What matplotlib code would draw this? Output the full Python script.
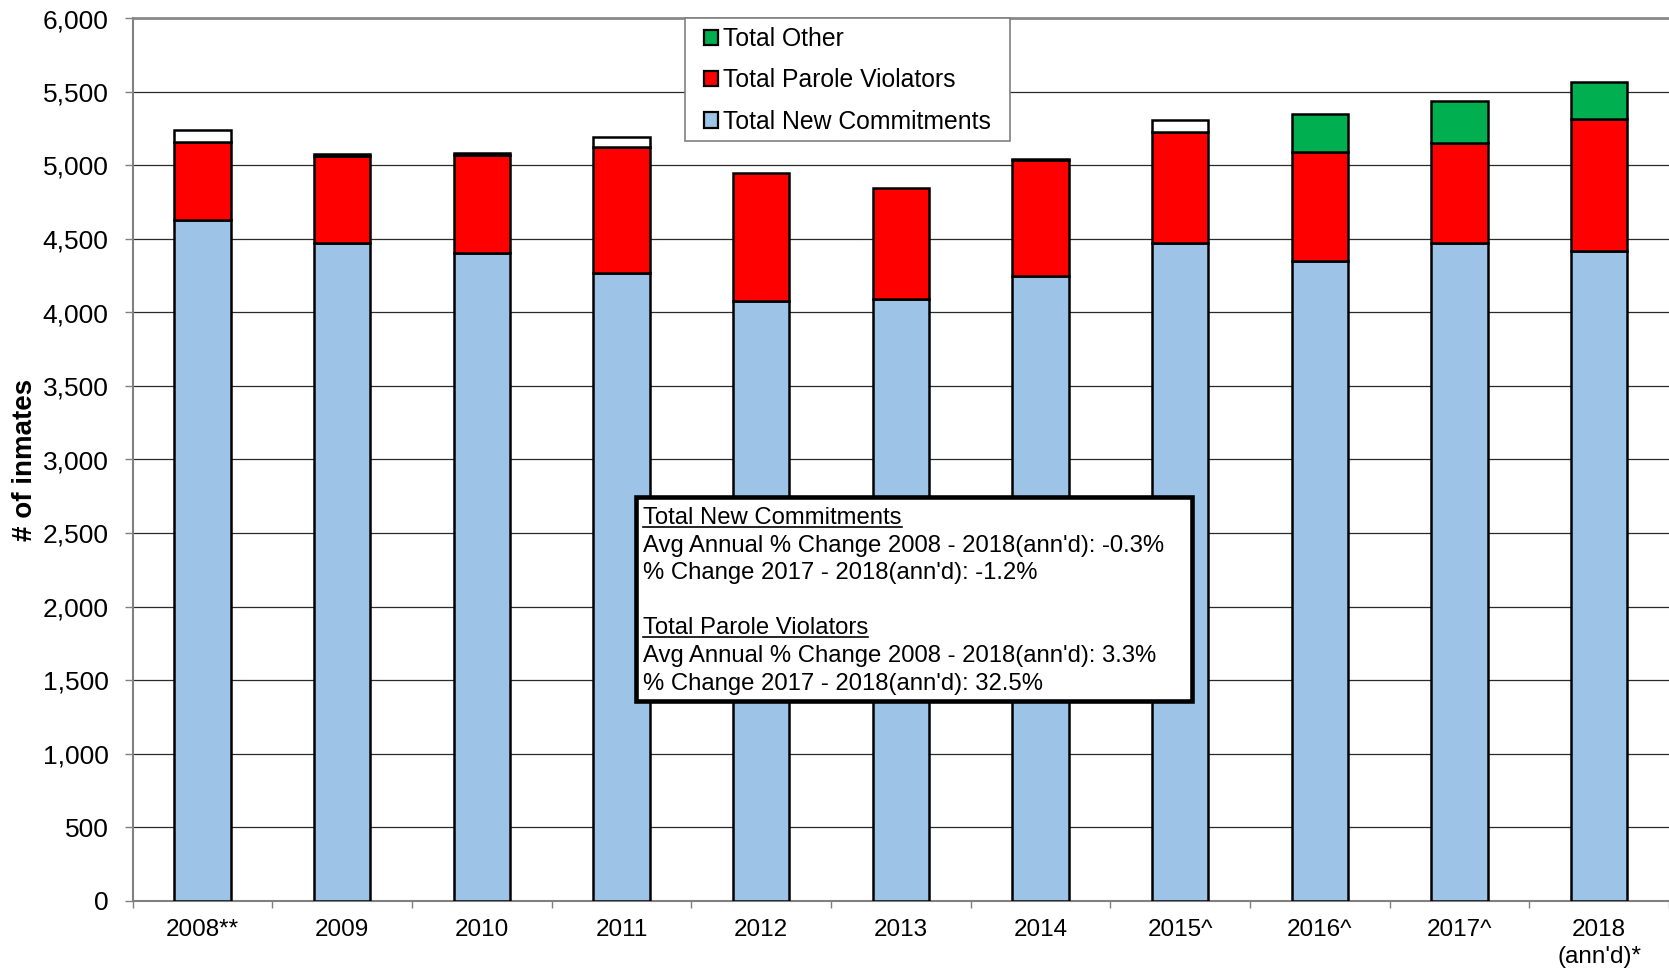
import matplotlib
matplotlib.use("Agg")
import matplotlib.pyplot as plt
from matplotlib.patches import Rectangle, Patch
from matplotlib.lines import Line2D
from matplotlib.ticker import FuncFormatter, MultipleLocator
import numpy as np

# ---------------- data ----------------
years = ["2008**", "2009", "2010", "2011", "2012", "2013", "2014",
         "2015^", "2016^", "2017^", "2018\n(ann'd)*"]
new_commitments = [4626, 4476, 4406, 4268, 4080, 4091, 4248, 4476, 4350, 4472, 4415]
parole_violators = [533, 586, 664, 859, 868, 753, 790, 751, 745, 680, 901]
total_other = [0, 0, 0, 0, 0, 0, 0, 0, 257, 286, 249]
unclassified = [82, 15, 12, 66, 0, 0, 3, 82, 0, 0, 0]

series_names = ["Total New Commitments", "Total Parole Violators", "Total Other"]
colors = {"nc": "#9DC3E6", "pv": "#FF0000", "ot": "#00B050", "un": "#FFFFFF"}

note_lines = [
    ("Total New Commitments", True),
    ("Avg Annual % Change 2008 - 2018(ann'd): -0.3%", False),
    ("% Change 2017 - 2018(ann'd): -1.2%", False),
    ("", False),
    ("Total Parole Violators", True),
    ("Avg Annual % Change 2008 - 2018(ann'd): 3.3%", False),
    ("% Change 2017 - 2018(ann'd): 32.5%", False),
]

# ---------------- figure ----------------
plt.rcParams['font.family'] = ['Liberation Sans', 'DejaVu Sans']
W, H = 1669, 972
fig = plt.figure(figsize=(W / 100, H / 100), dpi=100)

def fx(x):
    return x / W

def fy(y):
    return 1 - y / H

ax_left, ax_right, ax_top, ax_bot = 132.7, 1669, 18.5, 900.5
ax = fig.add_axes([fx(ax_left), fy(ax_bot), fx(ax_right - ax_left), (ax_bot - ax_top) / H])

x = np.arange(len(years))
bw = 0.405
elw = 1.8

def draw_layer(vals, bottoms, color):
    idx = [i for i, v in enumerate(vals) if v > 0]
    ax.bar(x[idx], [vals[i] for i in idx], bw, bottom=[bottoms[i] for i in idx],
           color=color, edgecolor="black", linewidth=elw, zorder=3)

b0 = np.zeros(len(years))
draw_layer(new_commitments, b0, colors["nc"])
b1 = b0 + np.array(new_commitments)
draw_layer(parole_violators, b1, colors["pv"])
b2 = b1 + np.array(parole_violators)
draw_layer(total_other, b2, colors["ot"])
b3 = b2 + np.array(total_other)
draw_layer(unclassified, b3, colors["un"])

ax.set_xlim(-0.5, len(years) - 0.5)
ax.set_ylim(0, 6000)
ax.yaxis.set_major_locator(MultipleLocator(500))
ax.yaxis.set_major_formatter(FuncFormatter(lambda v, p: f"{int(v):,}"))
ax.grid(axis="y", color="#2a2a2a", linewidth=0.9, zorder=0)
ax.set_axisbelow(True)

ax.set_xticks(x)
ax.set_xticklabels(years, fontsize=17.5, linespacing=1.3)
ax.set_xticks(np.arange(-0.5, len(years), 1.0), minor=True)
ax.tick_params(axis="x", which="major", length=0, pad=13)
ax.tick_params(axis="x", which="minor", length=5, width=1.0, color="#808080", direction="out")
ax.tick_params(axis="y", which="major", length=5.8, width=1.0, color="#808080",
               direction="out", pad=11.5, labelsize=19)

for s in ["left", "bottom"]:
    ax.spines[s].set_color("#808080")
    ax.spines[s].set_linewidth(1.5)
ax.spines["top"].set_color("#8a8a8a")
ax.spines["top"].set_linewidth(2.0)
ax.spines["right"].set_visible(False)

fig.text(fx(25), fy(460), "# of inmates", rotation=90, ha="center", va="center",
         fontsize=20, fontweight="bold")

# ---------------- legend ----------------
leg_handles = [Patch(facecolor=colors["ot"], edgecolor="black", linewidth=1.6),
               Patch(facecolor=colors["pv"], edgecolor="black", linewidth=1.6),
               Patch(facecolor=colors["nc"], edgecolor="black", linewidth=1.6)]
leg_labels = [series_names[2], series_names[1], series_names[0]]
fig.legend(leg_handles, leg_labels, loc="upper left",
           bbox_to_anchor=(fx(703.6), fy(27)), bbox_transform=fig.transFigure,
           borderpad=0, borderaxespad=0, frameon=False, fontsize=17.8,
           handlelength=0.58, handleheight=0.58, handletextpad=0.22, labelspacing=0.70)
fig.patches.append(Rectangle((fx(684.7), fy(141)), fx(1009.8 - 684.7), (141 - 18.5) / H,
                             transform=fig.transFigure, facecolor="white",
                             edgecolor="#808080", linewidth=1.2, zorder=0.5))

# ---------------- note box ----------------
fig.patches.append(Rectangle((fx(636), fy(701)), fx(1192 - 636), (701 - 497) / H,
                             transform=fig.transFigure, facecolor="white",
                             edgecolor="black", linewidth=3.3, zorder=5))
line_centers = [515.2, 543.0, 570.5, 598.0, 625.9, 653.5, 681.2]
note_texts = []
for (txt, ul), yc in zip(note_lines, line_centers):
    if not txt:
        continue
    t = fig.text(fx(643), fy(yc + 8.5), txt, ha="left", va="baseline", fontsize=17.2,
                 zorder=6)
    note_texts.append((t, ul, yc + 8.5))

fig.canvas.draw()
renderer = fig.canvas.get_renderer()
for t, ul, yb in note_texts:
    if ul:
        bb = t.get_window_extent(renderer)
        fig.add_artist(Line2D([bb.x0 / W, bb.x1 / W], [fy(yb + 3), fy(yb + 3)],
                              transform=fig.transFigure, color="black", linewidth=1.2,
                              zorder=6))

fig.savefig("out.png", dpi=100)
